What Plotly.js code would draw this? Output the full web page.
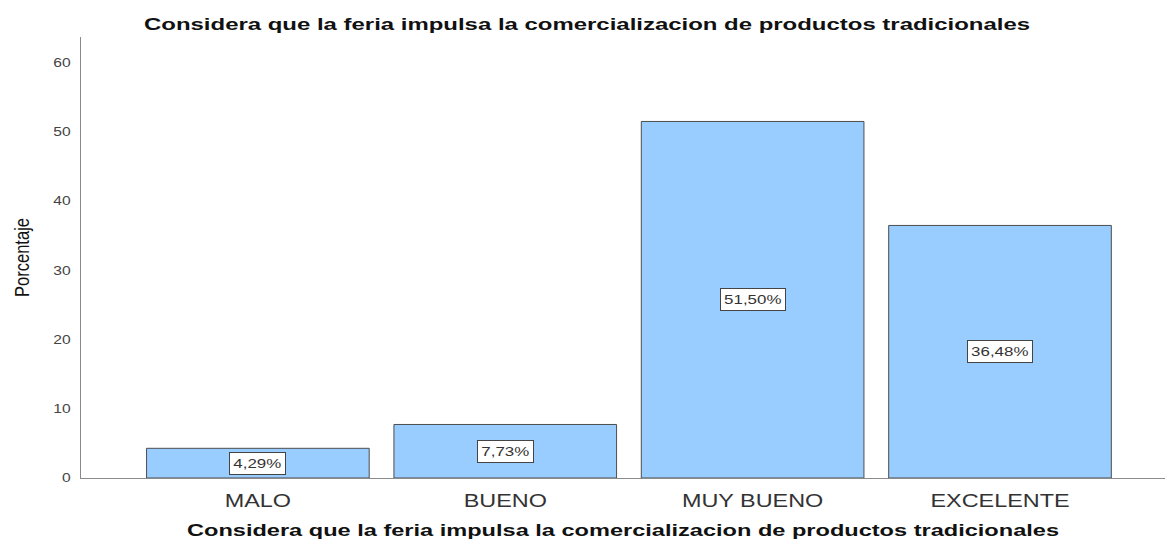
<!DOCTYPE html>
<html>
<head>
<meta charset="utf-8">
<script src="https://cdn.plot.ly/plotly-3.0.1.min.js"></script>
<style>
  html, body { margin: 0; padding: 0; background: #fff; }
  #chart { width: 1165px; height: 542px; }
</style>
</head>
<body>
<div id="chart"></div>
<script>
const categories = ["MALO", "BUENO", "MUY BUENO", "EXCELENTE"];
const percentages = [4.29, 7.73, 51.50, 36.48];
const yTickValues = [0, 10, 20, 30, 40, 50, 60];
const chartTitle = "Considera que la feria impulsa la comercializacion de productos tradicionales";
const xTitle = "Considera que la feria impulsa la comercializacion de productos tradicionales";
const yTitle = "Porcentaje";

const fmt = v => v.toFixed(2).replace(".", ",") + "%";
const SANS = "Liberation Sans, Arial, sans-serif";
const STRETCH = 1.3;   // the reference text is drawn horizontally widened

const trace = {
  type: "bar",
  x: categories,
  y: percentages,
  marker: { color: "#99CCFF", line: { color: "#4d4d4d", width: 1 } },
  hoverinfo: "skip"
};

const annotations = categories.map((c, i) => ({
  x: c, y: percentages[i] / 2, xref: "x", yref: "y",
  text: fmt(percentages[i]), showarrow: false,
  font: { family: SANS, size: 13, color: "#333" },
  bgcolor: "#ffffff", bordercolor: "#444", borderwidth: 1, borderpad: 2
}));

const layout = {
  width: 1165, height: 542,
  margin: { l: 81, r: 0, t: 37, b: 64 },
  paper_bgcolor: "#fff", plot_bgcolor: "#fff",
  bargap: 0.1,
  showlegend: false,
  title: {
    text: chartTitle, xref: "container", x: 0.5039, xanchor: "center",
    yref: "container", y: 1 - 24 / 542, yanchor: "middle",
    font: { family: SANS, size: 16.5, color: "#111", weight: "bold" }
  },
  xaxis: {
    type: "category", range: [-0.715, 3.667],
    showline: true, linecolor: "#8a8a8a", linewidth: 1,
    showgrid: false, zeroline: false, ticks: "", ticklabelstandoff: 6,
    tickfont: { family: SANS, size: 18, color: "#333" },
    title: { text: xTitle, standoff: 14,
      font: { family: SANS, size: 16.5, color: "#111", weight: "bold" } }
  },
  yaxis: {
    range: [0, 63.7], tickvals: yTickValues,
    showline: true, linecolor: "#8a8a8a", linewidth: 1,
    showgrid: false, zeroline: false, ticks: "", ticklabelstandoff: 7,
    tickfont: { family: SANS, size: 12, color: "#444" },
    title: { text: yTitle, standoff: 22,
      font: { family: SANS, size: 20, color: "#111" } }
  },
  annotations: annotations
};

function stretchText(selector, factor, target) {
  document.querySelectorAll(selector).forEach(t => {
    const len = t.getComputedTextLength();
    if (!len) return;
    t.setAttribute("textLength", target ? target : len * factor);
    t.setAttribute("lengthAdjust", "spacingAndGlyphs");
  });
}

const gd = document.getElementById("chart");
Plotly.newPlot(gd, [trace], layout, { staticPlot: true, displayModeBar: false })
  .then(() => {
    // size each label box to fit its widened text
    const upd = {};
    document.querySelectorAll(".annotation-text").forEach((t, i) => {
      upd["annotations[" + i + "].width"] = Math.round(t.getComputedTextLength() * STRETCH + 3);
      upd["annotations[" + i + "].height"] = 17;
    });
    return Plotly.relayout(gd, upd);
  })
  .then(() => {
    stretchText(".gtitle", 0, 886);
    stretchText(".g-xtitle text", 0, 872);
    stretchText(".g-ytitle text", 0, 79);
    stretchText(".xtick text", STRETCH);
    stretchText(".ytick text", STRETCH);
    stretchText(".annotation-text", STRETCH);
  });
</script>
</body>
</html>
